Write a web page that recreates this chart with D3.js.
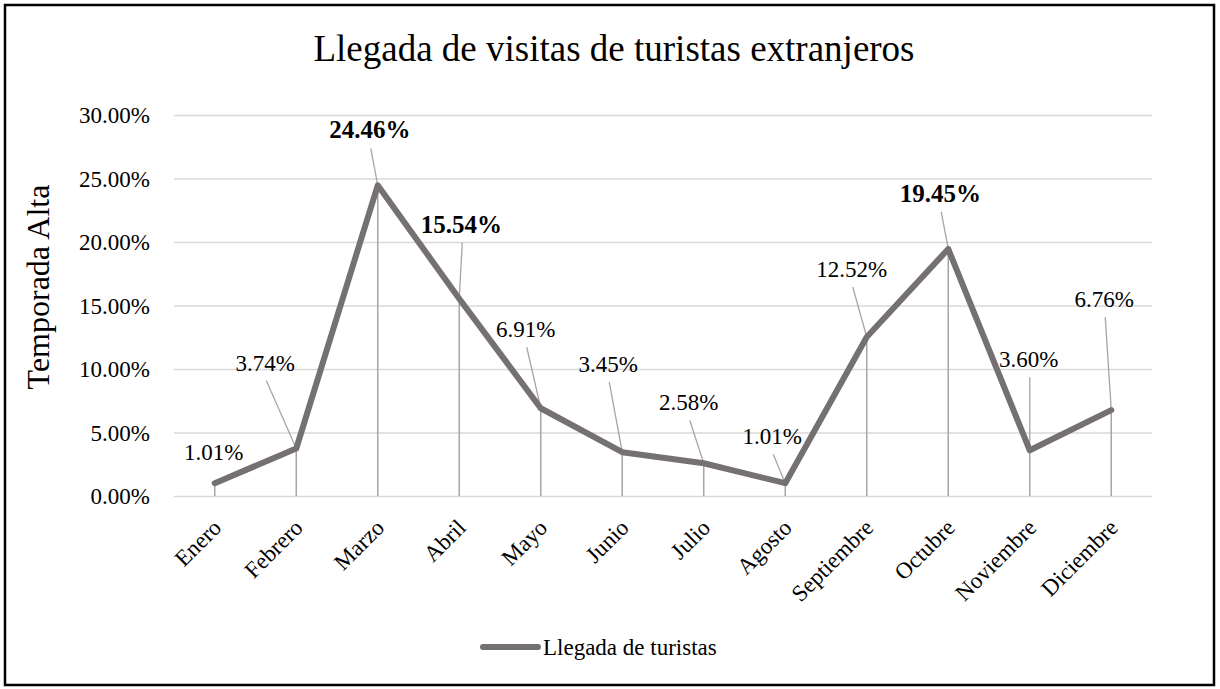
<!DOCTYPE html>
<html>
<head>
<meta charset="utf-8">
<script src="https://cdn.jsdelivr.net/npm/d3@7"></script>
<style>
  body { margin: 0; background: #fff; }
  svg text { font-family: "Liberation Serif", "Times New Roman", serif; fill: #000; }
  .grid line { stroke: #d9d9d9; stroke-width: 1.5; }
  .grid .domain { display: none; }
</style>
</head>
<body>
<div id="chart"></div>
<script>
// datos
const meses = ['Enero', 'Febrero', 'Marzo', 'Abril', 'Mayo', 'Junio', 'Julio',
  'Agosto', 'Septiembre', 'Octubre', 'Noviembre', 'Diciembre'];
const llegadas = [0.0101, 0.0374, 0.2446, 0.1554, 0.0691, 0.0345, 0.0258,
  0.0101, 0.1252, 0.1945, 0.0360, 0.0676];
const yTicks = [0, 0.05, 0.10, 0.15, 0.20, 0.25, 0.30];
const destacados = ['Marzo', 'Abril', 'Octubre'];

// where each data label sits, relative to its point (px)
const labelOffset = [[-1, -23], [-31, -78], [-8, -47], [2, -66], [-15, -71], [-14, -80],
  [-15, -53], [-13, -39], [-15, -60], [-8, -47], [-1, -83], [-7, -103]];

var fullWidth = 1220;
var fullHeight = 689;
var plot = {left: 174, right: 1152, top: 115, bottom: 496};

var svg = d3.select('#chart').append('svg')
  .attr('width', fullWidth)
  .attr('height', fullHeight);

svg.append('rect')
  .attr('x', 5).attr('y', 5)
  .attr('width', 1209).attr('height', 680)
  .attr('fill', '#fff')
  .attr('stroke', '#000')
  .attr('stroke-width', 2.5);

var x = d3.scaleBand().domain(meses).range([plot.left, plot.right]);
var y = d3.scaleLinear().domain([0, 0.30]).range([plot.bottom, plot.top]);
var cx = function(m) { return x(m) + x.bandwidth() / 2; };

// gridlines + y tick labels
var yAxis = svg.append('g')
  .attr('class', 'grid')
  .attr('transform', 'translate(' + plot.left + ',0)')
  .call(d3.axisLeft(y).tickValues(yTicks).tickFormat(d3.format('.2%'))
    .tickSize(-(plot.right - plot.left)).tickPadding(24));
yAxis.attr('font-family', null);
yAxis.selectAll('text')
  .style('font-size', '23px')
  .attr('dy', '0.33em');

// month labels
svg.append('g')
  .attr('transform', 'translate(0,' + plot.bottom + ')')
  .call(d3.axisBottom(x).tickSize(0))
  .call(function(g) { g.select('.domain').remove(); g.attr('font-family', null); })
  .selectAll('text')
    .style('font-size', '23px')
    .attr('text-anchor', 'end')
    .attr('x', 0).attr('y', 0).attr('dy', 0)
    .attr('transform', 'translate(8,33) rotate(-45)');

svg.append('text')
  .attr('x', 614).attr('y', 61)
  .attr('text-anchor', 'middle')
  .style('font-size', '37px')
  .text('Llegada de visitas de turistas extranjeros');

svg.append('text')
  .attr('text-anchor', 'middle')
  .attr('transform', 'translate(49,287) rotate(-90)')
  .style('font-size', '32px')
  .text('Temporada Alta');

var puntos = meses.map(function(m, i) {
  return {mes: m, valor: llegadas[i], px: cx(m), py: y(llegadas[i]),
    lx: cx(m) + labelOffset[i][0], ly: y(llegadas[i]) + labelOffset[i][1]};
});

// drop lines
svg.append('g').selectAll('line').data(puntos).enter().append('line')
  .attr('x1', function(d) { return d.px; })
  .attr('x2', function(d) { return d.px; })
  .attr('y1', function(d) { return d.py; })
  .attr('y2', plot.bottom)
  .attr('stroke', '#a6a6a6')
  .attr('stroke-width', 1.5);

// leader lines
svg.append('g').selectAll('line').data(puntos.filter(function(d) { return d.mes != 'Enero'; }))
  .enter().append('line')
  .attr('x1', function(d) { return d.lx + 1; })
  .attr('y1', function(d) { return d.ly + 10; })
  .attr('x2', function(d) { return d.px; })
  .attr('y2', function(d) { return d.py; })
  .attr('stroke', '#a6a6a6')
  .attr('stroke-width', 1.3);

var line = d3.line()
  .x(function(d) { return d.px; })
  .y(function(d) { return d.py; });

svg.append('path')
  .datum(puntos)
  .attr('d', line)
  .attr('fill', 'none')
  .attr('stroke', '#767171')
  .attr('stroke-width', 6)
  .attr('stroke-linejoin', 'round')
  .attr('stroke-linecap', 'round');

svg.append('g').selectAll('text').data(puntos).enter().append('text')
  .attr('x', function(d) { return d.lx; })
  .attr('y', function(d) { return d.ly; })
  .attr('text-anchor', 'middle')
  .style('font-size', function(d) { return destacados.includes(d.mes) ? '25px' : '23px'; })
  .style('font-weight', function(d) { return destacados.includes(d.mes) ? 'bold' : 'normal'; })
  .text(function(d) { return d3.format('.2%')(d.valor); });

// legend
svg.append('line')
  .attr('x1', 483).attr('x2', 538)
  .attr('y1', 647).attr('y2', 647)
  .attr('stroke', '#767171')
  .attr('stroke-width', 6)
  .attr('stroke-linecap', 'round');
svg.append('text')
  .attr('x', 543).attr('y', 655)
  .style('font-size', '23px')
  .text('Llegada de turistas');
</script>
</body>
</html>
